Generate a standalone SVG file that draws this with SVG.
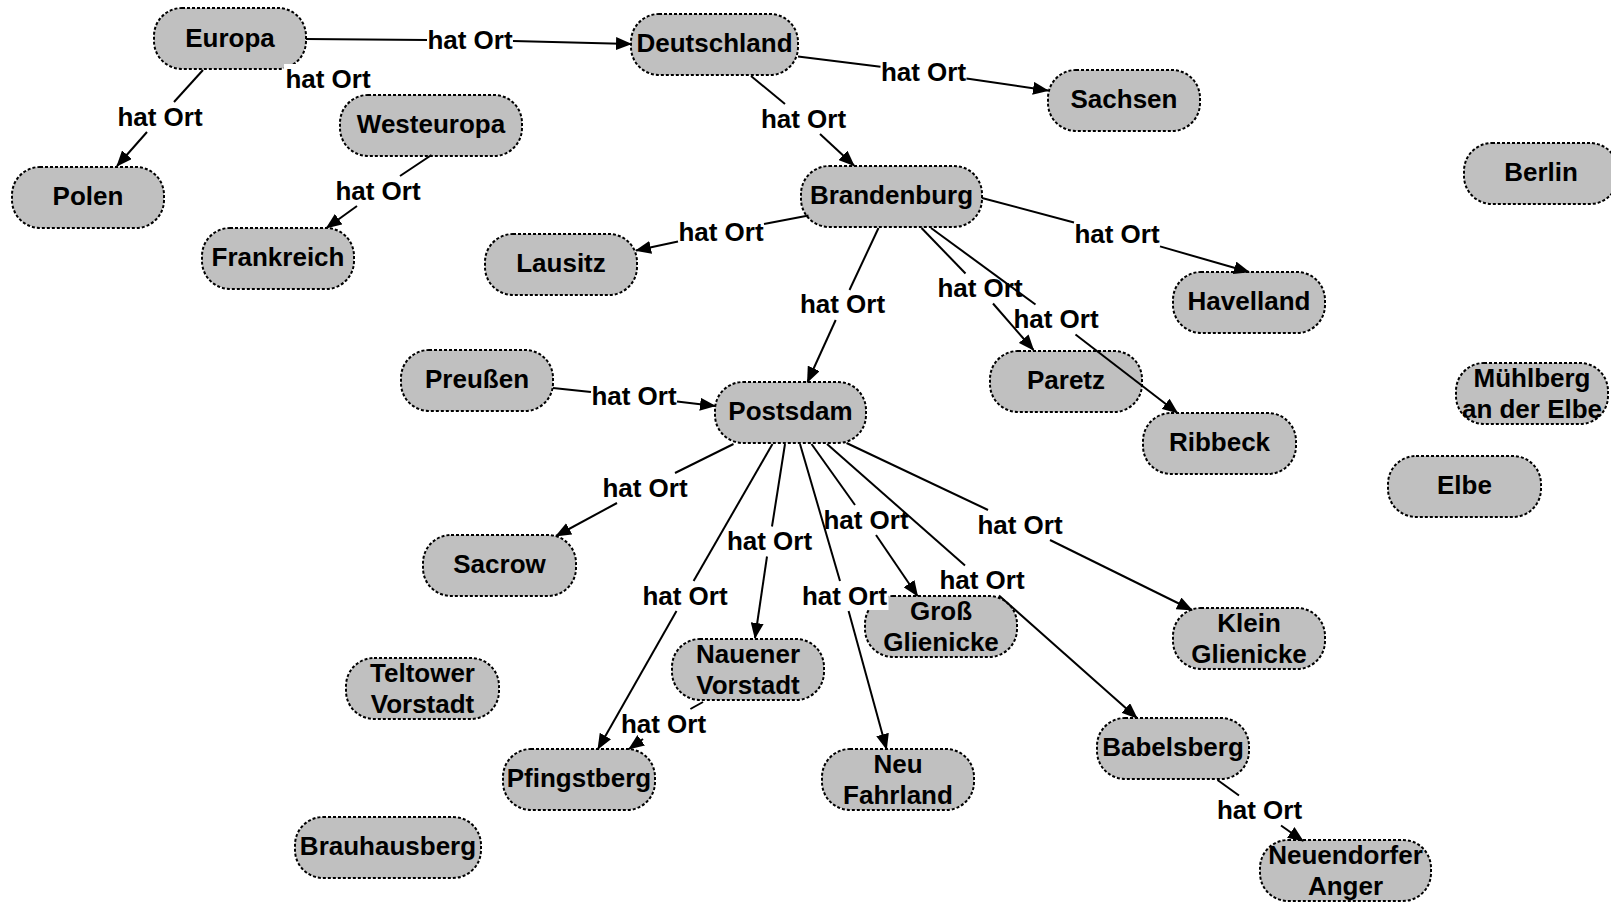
<svg xmlns="http://www.w3.org/2000/svg" width="1611" height="903" viewBox="0 0 1611 903">
<style>
.n rect{fill:#c0c0c0;stroke:#000;stroke-width:2;stroke-dasharray:3 2}
text{font-family:"Liberation Sans",Arial,sans-serif;font-weight:bold;font-size:26px;fill:#000;text-anchor:middle}
.c line{stroke:#000;stroke-width:2}
.c .a{marker-end:url(#arr)}
.c rect{fill:#fff;stroke:none}
</style>
<defs>
<marker id="arr" markerUnits="userSpaceOnUse" markerWidth="16" markerHeight="13" refX="15" refY="6.5" orient="auto">
<path d="M0,0 L16,6.5 L0,13 z" fill="#000"/>
</marker>
</defs>
<rect width="1611" height="903" fill="#fff"/>
<g id="nodes">
<g id="europa" class="n"><rect x="154" y="8" width="152" height="61" rx="28"/><text x="230" y="46.5">Europa</text></g>
<g id="deutschland" class="n"><rect x="631" y="14" width="167" height="61" rx="28"/><text x="714.5" y="52">Deutschland</text></g>
<g id="sachsen" class="n"><rect x="1048" y="70" width="152" height="61" rx="28"/><text x="1124" y="108">Sachsen</text></g>
<g id="westeuropa" class="n"><rect x="340" y="95" width="182" height="61" rx="28"/><text x="431" y="132.5">Westeuropa</text></g>
<g id="polen" class="n"><rect x="12" y="167" width="152" height="61" rx="28"/><text x="88" y="205">Polen</text></g>
<g id="frankreich" class="n"><rect x="202" y="228" width="152" height="61" rx="28"/><text x="278" y="266">Frankreich</text></g>
<g id="brandenburg" class="n"><rect x="801" y="166" width="181" height="61" rx="28"/><text x="891.5" y="204">Brandenburg</text></g>
<g id="lausitz" class="n"><rect x="485" y="234" width="152" height="61" rx="28"/><text x="561" y="272">Lausitz</text></g>
<g id="berlin" class="n"><rect x="1464" y="143" width="154" height="61" rx="28"/><text x="1541" y="181">Berlin</text></g>
<g id="havelland" class="n"><rect x="1173" y="272" width="152" height="61" rx="28"/><text x="1249" y="310">Havelland</text></g>
<g id="paretz" class="n"><rect x="990" y="351" width="152" height="61" rx="28"/><text x="1066" y="389">Paretz</text></g>
<g id="preussen" class="n"><rect x="401" y="350" width="152" height="61" rx="28"/><text x="477" y="388">Preußen</text></g>
<g id="postsdam" class="n"><rect x="715" y="382" width="151" height="61" rx="28"/><text x="790.5" y="420">Postsdam</text></g>
<g id="muehlberg" class="n"><rect x="1456" y="363" width="152" height="61" rx="28"/><text x="1532" y="387">Mühlberg</text><text x="1532" y="418">an der Elbe</text></g>
<g id="ribbeck" class="n"><rect x="1143" y="413" width="153" height="61" rx="28"/><text x="1219.5" y="451">Ribbeck</text></g>
<g id="elbe" class="n"><rect x="1388" y="456" width="153" height="61" rx="28"/><text x="1464.5" y="494">Elbe</text></g>
<g id="sacrow" class="n"><rect x="423" y="535" width="153" height="61" rx="28"/><text x="499.5" y="573">Sacrow</text></g>
<g id="gross-glienicke" class="n"><rect x="865" y="596" width="152" height="61" rx="28"/><text x="941" y="620">Groß</text><text x="941" y="651">Glienicke</text></g>
<g id="klein-glienicke" class="n"><rect x="1173" y="608" width="152" height="61" rx="28"/><text x="1249" y="632">Klein</text><text x="1249" y="663">Glienicke</text></g>
<g id="teltower-vorstadt" class="n"><rect x="346" y="658" width="153" height="61" rx="28"/><text x="422.5" y="682">Teltower</text><text x="422.5" y="713">Vorstadt</text></g>
<g id="nauener-vorstadt" class="n"><rect x="672" y="639" width="152" height="61" rx="28"/><text x="748" y="663">Nauener</text><text x="748" y="694">Vorstadt</text></g>
<g id="pfingstberg" class="n"><rect x="503" y="749" width="152" height="61" rx="28"/><text x="579" y="787">Pfingstberg</text></g>
<g id="neu-fahrland" class="n"><rect x="822" y="749" width="152" height="61" rx="28"/><text x="898" y="773">Neu</text><text x="898" y="804">Fahrland</text></g>
<g id="babelsberg" class="n"><rect x="1097" y="718" width="152" height="61" rx="28"/><text x="1173" y="756">Babelsberg</text></g>
<g id="brauhausberg" class="n"><rect x="295" y="817" width="186" height="61" rx="28"/><text x="388" y="855">Brauhausberg</text></g>
<g id="neuendorfer-anger" class="n"><rect x="1260" y="840" width="171" height="61" rx="28"/><text x="1345.5" y="864">Neuendorfer</text><text x="1345.5" y="895">Anger</text></g>
</g>
<g id="connectors" class="c">
<g id="labels">
<rect x="426" y="26" width="88" height="28"/><text x="470" y="49">hat Ort</text>
<rect x="116" y="103" width="88" height="28"/><text x="160" y="126">hat Ort</text>
<rect x="284" y="64" width="88" height="30"/><text x="328" y="88">hat Ort</text>
<rect x="334" y="177" width="88" height="28"/><text x="378" y="200">hat Ort</text>
<rect x="879.5" y="58" width="88" height="28"/><text x="923.5" y="81">hat Ort</text>
<rect x="759.5" y="105" width="88" height="28"/><text x="803.5" y="128">hat Ort</text>
<rect x="677" y="218" width="88" height="28"/><text x="721" y="241">hat Ort</text>
<rect x="1073" y="220" width="88" height="28"/><text x="1117" y="243">hat Ort</text>
<rect x="798.5" y="291" width="88" height="28"/><text x="842.5" y="313">hat Ort</text>
<rect x="936" y="274.5" width="88" height="28"/><text x="980" y="297">hat Ort</text>
<rect x="1012" y="305.5" width="88" height="28"/><text x="1056" y="328">hat Ort</text>
<rect x="590" y="382.5" width="88" height="28"/><text x="634" y="405">hat Ort</text>
<rect x="601" y="474" width="88" height="28"/><text x="645" y="496.5">hat Ort</text>
<rect x="641" y="582" width="88" height="28"/><text x="685" y="605">hat Ort</text>
<rect x="725.5" y="527.5" width="88" height="28"/><text x="769.5" y="550">hat Ort</text>
<rect x="800.5" y="582" width="88" height="28"/><text x="844.5" y="605">hat Ort</text>
<rect x="822" y="506" width="88" height="28"/><text x="866" y="528.5">hat Ort</text>
<rect x="938" y="566.5" width="88" height="28"/><text x="982" y="589">hat Ort</text>
<rect x="976" y="511" width="88" height="28"/><text x="1020" y="533.5">hat Ort</text>
<rect x="619.5" y="710" width="88" height="28"/><text x="663.5" y="733">hat Ort</text>
<rect x="1215.5" y="796.5" width="88" height="28"/><text x="1259.5" y="819">hat Ort</text>
</g>
<line x1="306" y1="39" x2="427" y2="40"/><line class="a" x1="513" y1="41" x2="631" y2="44"/>
<line x1="203" y1="70" x2="174" y2="102"/><line class="a" x1="147" y1="132" x2="117" y2="166"/>
<line x1="431.5" y1="155" x2="400" y2="176"/><line class="a" x1="357" y1="206" x2="326.5" y2="228"/>
<line x1="798" y1="56.5" x2="880.5" y2="66.7"/><line class="a" x1="966.5" y1="78.4" x2="1048" y2="90.5"/>
<line x1="751" y1="76" x2="785" y2="104"/><line class="a" x1="820" y1="134" x2="854" y2="165.5"/>
<line x1="808.5" y1="215.5" x2="764" y2="224"/><line class="a" x1="678" y1="241.4" x2="636" y2="250.5"/>
<line x1="982" y1="198" x2="1074" y2="222.5"/><line class="a" x1="1160" y1="246.4" x2="1249" y2="272"/>
<line x1="878.5" y1="228" x2="849.5" y2="290"/><line class="a" x1="835.7" y1="320" x2="807.5" y2="382"/>
<line x1="921.5" y1="228" x2="965.5" y2="273.5"/><line class="a" x1="993" y1="303.5" x2="1033.5" y2="350"/>
<line x1="931" y1="228" x2="1035.5" y2="304.5"/><line class="a" x1="1075.5" y1="334.5" x2="1177.5" y2="413"/>
<line x1="553" y1="388" x2="591" y2="392"/><line class="a" x1="677" y1="401.5" x2="715" y2="406"/>
<line x1="733.5" y1="444" x2="675" y2="473"/><line class="a" x1="617" y1="503" x2="556" y2="536"/>
<line x1="772.5" y1="444" x2="693.6" y2="581"/><line class="a" x1="676.5" y1="611" x2="598" y2="749"/>
<line x1="785" y1="444" x2="772" y2="526.5"/><line class="a" x1="767" y1="556.5" x2="755" y2="638"/>
<line x1="800" y1="444" x2="840" y2="581"/><line class="a" x1="848.6" y1="611" x2="886.5" y2="749"/>
<line x1="811.5" y1="444" x2="855" y2="505"/><line class="a" x1="876" y1="535" x2="917.5" y2="596"/>
<line x1="827" y1="444" x2="965" y2="565.5"/><line class="a" x1="999" y1="595.5" x2="1137" y2="718"/>
<line x1="846.5" y1="443" x2="988" y2="510"/><line class="a" x1="1050" y1="540" x2="1192" y2="610"/>
<line x1="703" y1="702" x2="690.4" y2="709"/><line class="a" x1="643" y1="739" x2="629" y2="749"/>
<line x1="1217.5" y1="780" x2="1239" y2="795.5"/><line class="a" x1="1281" y1="825.5" x2="1303" y2="841"/>
</g>
</svg>
